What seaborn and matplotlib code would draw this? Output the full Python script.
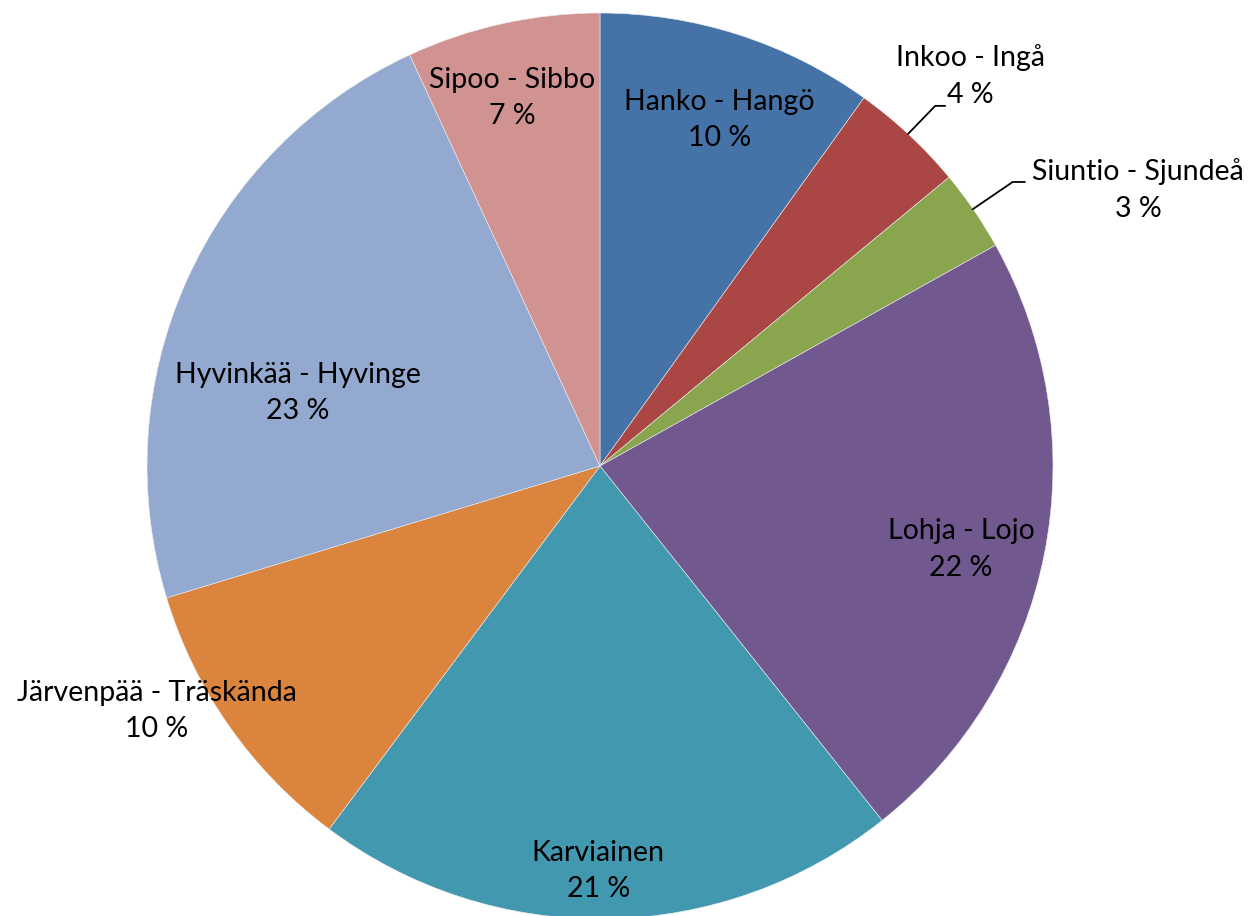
import numpy as np
import matplotlib
matplotlib.use("Agg")
import matplotlib.pyplot as plt
import seaborn as sns

sns.set_theme(style="white")
plt.rcParams['font.family'] = ['Lato', 'DejaVu Sans']

# ---- data ----
municipalities = ["Hanko - Hangö", "Inkoo - Ingå", "Siuntio - Sjundeå", "Lohja - Lojo",
                  "Karviainen", "Järvenpää - Träskända", "Hyvinkää - Hyvinge", "Sipoo - Sibbo"]
shares = [9.9, 4.1, 2.9, 22.4, 20.9, 10.1, 22.8, 6.9]
colors = ["#4572A7", "#AA4643", "#89A54E", "#71588F",
          "#4198AF", "#DB843D", "#93A9CF", "#D19392"]

# label placement (in pie-radius units, relative to center)
label_xy = [(0.263, 0.764), (0.817, 0.861), (1.188, 0.609), (0.797, -0.184),
            (-0.004, -0.894), (-0.978, -0.541), (-0.667, 0.161), (-0.194, 0.812)]
leader = {1: [(0.680, 0.733), (0.740, 0.795), (0.762, 0.795)],
          2: [(0.823, 0.567), (0.911, 0.627), (0.938, 0.627)]}

W, H = 1250, 916
cx, cy, R = 600, 466, 453
fig = plt.figure(figsize=(W / 100, H / 100), dpi=100)
ax = fig.add_axes([0, 0, 1, 1])
ax.axis("off")

ax.pie(shares, colors=colors, startangle=90, counterclock=False, radius=1,
       wedgeprops=dict(edgecolor="#eeeeee", linewidth=0.4))
ax.set_xlim(-cx / R, (W - cx) / R)
ax.set_ylim(-(H - cy) / R, cy / R)
ax.set_aspect("auto")

total = sum(shares)
for i, (name, v) in enumerate(zip(municipalities, shares)):
    x, y = label_xy[i]
    ax.text(x, y, f"{name}\n{round(v / total * 100):.0f} %", ha="center", va="center",
            fontsize=20.5, color="black", linespacing=1.5)
for i, pts in leader.items():
    xs, ys = zip(*pts)
    ax.plot(xs, ys, color="black", linewidth=1.3)

fig.savefig("out.png", dpi=100)
